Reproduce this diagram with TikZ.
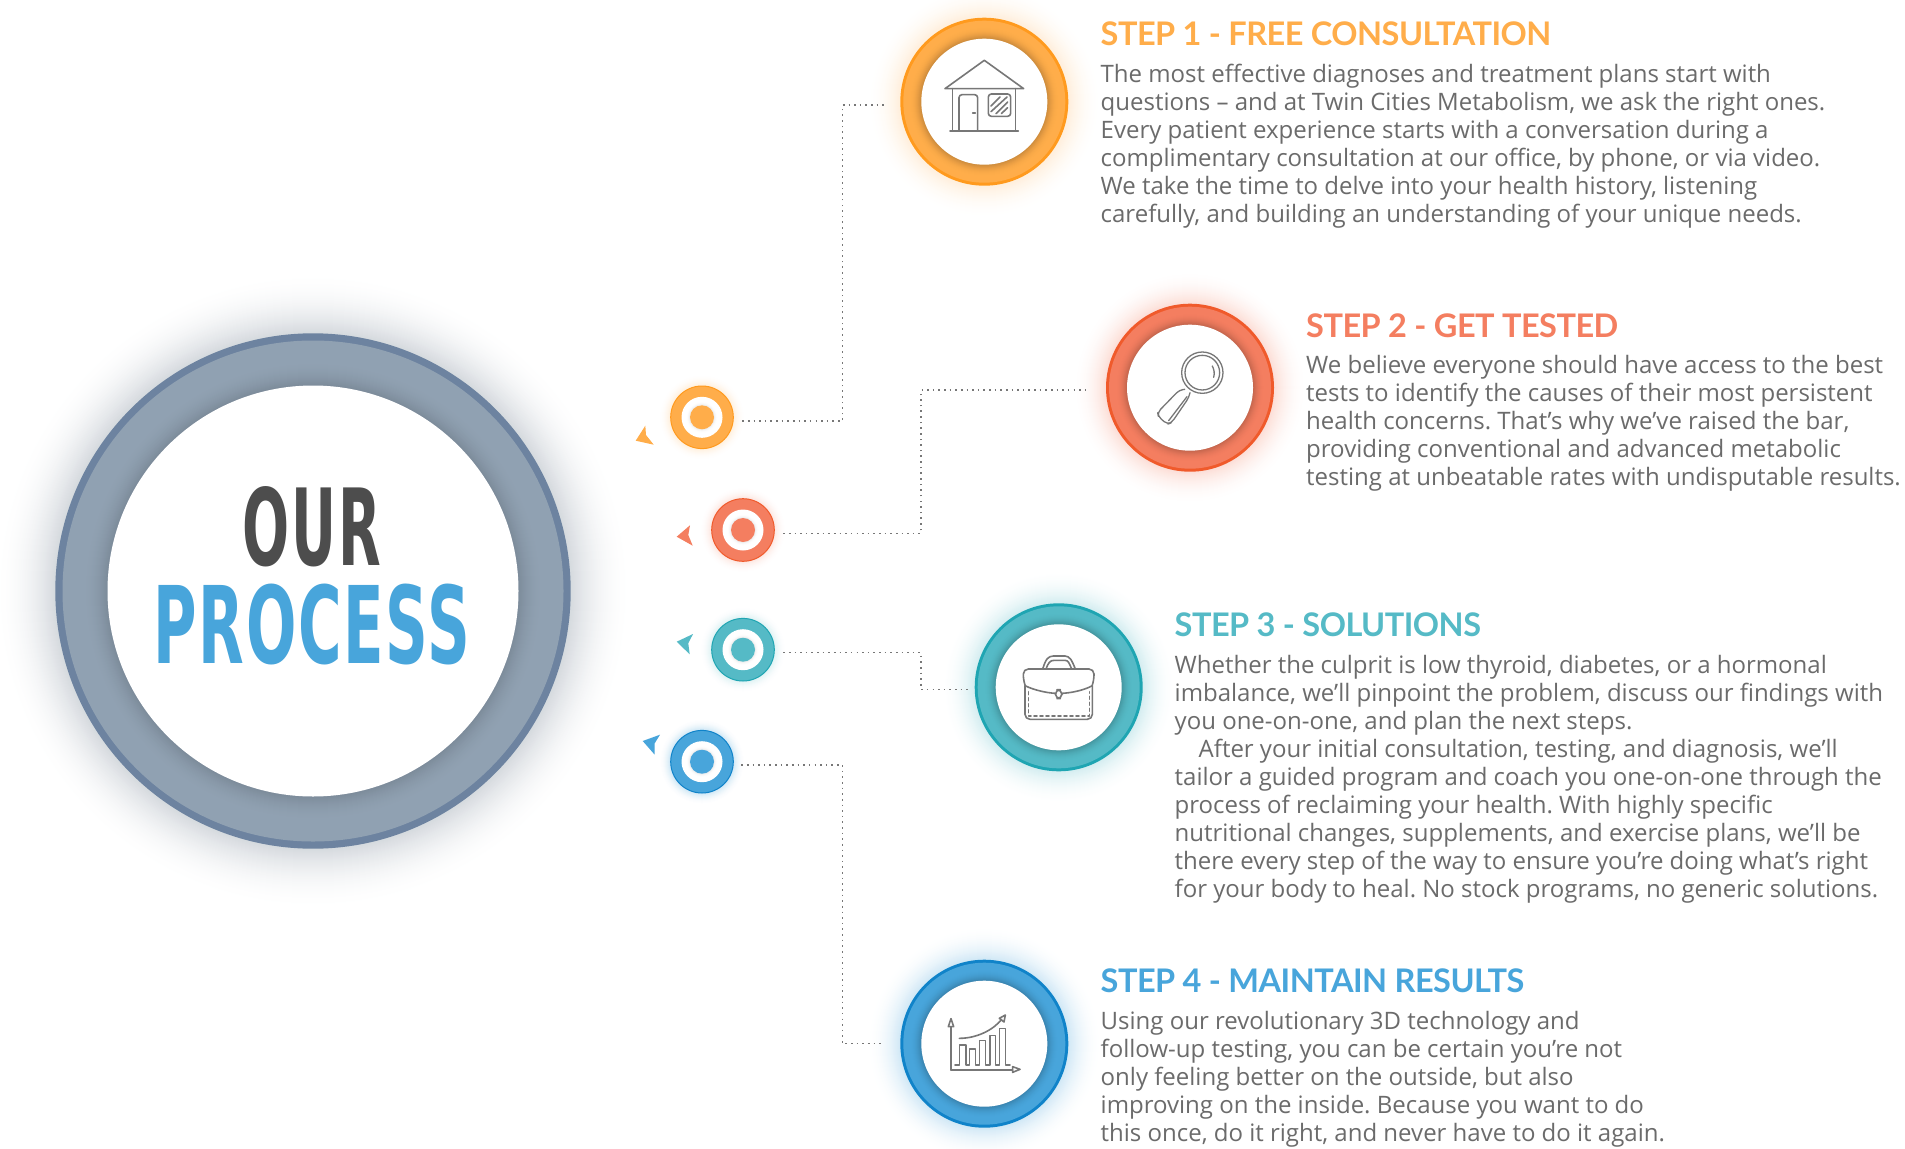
\documentclass[tikz,border=0pt]{standalone}
\usepackage{fontspec}
\setmainfont{Open Sans}
\newfontfamily\headfont[LetterSpace=-1.6]{Lato}
\newfontfamily\bigfont[LetterSpace=3]{DejaVu Sans}
\definecolor{corange}{HTML}{FFAD4A}\definecolor{borange}{HTML}{FF9A1E}
\definecolor{cred}{HTML}{F47E60}\definecolor{bred}{HTML}{F05A2B}
\definecolor{cteal}{HTML}{55BAC6}\definecolor{bteal}{HTML}{1FA5B2}
\definecolor{cblue}{HTML}{48A5DB}\definecolor{bblue}{HTML}{1083C9}
\definecolor{cgray}{HTML}{90A1B2}\definecolor{bgray}{HTML}{6D83A0}\definecolor{hgray}{HTML}{8A96A3}
\definecolor{txt}{HTML}{6B6B6B}\definecolor{icon}{HTML}{777777}\definecolor{dark}{HTML}{4D4D4D}
\newcommand{\halo}[6]{% x y R width pct colour
  \foreach \i in {#4,...,1}{%
    \pgfmathsetmacro{\pp}{#5*(1-\i/(#4+1))*(1-\i/(#4+1))}
    \fill[#6!\pp!white] (#1,#2) circle[radius=#3+\i];
  }}
\newcommand{\inshade}[6]{% x y r width colour strength
  \foreach \i in {#4,...,1}{%
    \pgfmathsetmacro{\pp}{100-#6*(1-\i/(#4+1))*(1-\i/(#4+1))}
    \fill[#5!\pp!black] (#1,#2) circle[radius=#3+\i];
  }}
\tikzset{
  ringnode/.style={circle,inner sep=0pt,outer sep=0pt,minimum size=#1},
  whitedisc/.style={circle,inner sep=0pt,outer sep=0pt,minimum size=#1,fill=white},
  head/.style={anchor=base west,inner sep=0pt,font=\fontsize{32.5}{36}\selectfont\headfont\bfseries},
  body/.style={anchor=north west,inner sep=0pt,align=left,text=txt,font=\fontsize{24}{28}\selectfont\frenchspacing},
  dotline/.style={draw=icon,line width=1.5pt,dash pattern=on 1.6pt off 4.03pt},
  ico/.style={draw=icon,line width=1.6pt,line join=round,line cap=round}
}
\begin{document}
\begin{tikzpicture}[x=1pt,y=-1pt]
\path[use as bounding box,fill=white] (0,0) rectangle (1905,1148);
% ---- big circle
\halo{313}{591}{257.7}{60}{36}{hgray}
\node[ringnode=515.4,fill=bgray] (main) at (313,591) {};
\node[ringnode=501,fill=cgray] (mainring) at (313,591) {};
\inshade{313}{591}{205.5}{24}{cgray}{14}
\node[whitedisc=411] (maindisc) at (313,591) {};
\node[inner sep=0pt,text=dark] (our) at (312,526.5) {\resizebox{138pt}{79pt}{\bigfont\bfseries OUR}};
\node[inner sep=0pt,text=cblue] (process) at (312,624.5) {\resizebox{317pt}{79.5pt}{\bigfont\bfseries PROCESS}};
% ---- step circles
\halo{984.3}{101.7}{84}{32}{20}{corange}
\node[ringnode=168,fill=borange] (step1) at (984.3,101.7) {};
\node[ringnode=162,fill=corange] (ring1) at (984.3,101.7) {};
\inshade{984.3}{101.7}{63}{11}{corange}{22}
\node[whitedisc=126] (disc1) at (984.3,101.7) {};
\halo{1190}{387.7}{84}{32}{26}{cred}
\node[ringnode=168,fill=bred] (step2) at (1190,387.7) {};
\node[ringnode=162,fill=cred] (ring2) at (1190,387.7) {};
\inshade{1190}{387.7}{63}{11}{cred}{22}
\node[whitedisc=126] (disc2) at (1190,387.7) {};
\halo{1058.7}{687.3}{84}{32}{26}{cteal}
\node[ringnode=168,fill=bteal] (step3) at (1058.7,687.3) {};
\node[ringnode=162,fill=cteal] (ring3) at (1058.7,687.3) {};
\inshade{1058.7}{687.3}{63}{11}{cteal}{22}
\node[whitedisc=126] (disc3) at (1058.7,687.3) {};
\halo{984.3}{1043.7}{84}{32}{26}{cblue}
\node[ringnode=168,fill=bblue] (step4) at (984.3,1043.7) {};
\node[ringnode=162,fill=cblue] (ring4) at (984.3,1043.7) {};
\inshade{984.3}{1043.7}{63}{11}{cblue}{22}
\node[whitedisc=126] (disc4) at (984.3,1043.7) {};
% ---- small target circles
\halo{702}{417.3}{31.3}{11}{22}{corange}
\node[ringnode=62.6,fill=corange,draw=borange,line width=1pt] (dot1) at (702,417.3) {};
\node[whitedisc=41] (dotw1) at (702,417.3) {};
\halo{702}{417.3}{12}{3}{22}{gray}
\node[ringnode=24,fill=corange] (dotc1) at (702,417.3) {};
\halo{743}{530}{31.3}{11}{22}{cred}
\node[ringnode=62.6,fill=cred,draw=bred,line width=1pt] (dot2) at (743,530) {};
\node[whitedisc=41] (dotw2) at (743,530) {};
\halo{743}{530}{12}{3}{22}{gray}
\node[ringnode=24,fill=cred] (dotc2) at (743,530) {};
\halo{743}{649.7}{31.3}{11}{22}{cteal}
\node[ringnode=62.6,fill=cteal,draw=bteal,line width=1pt] (dot3) at (743,649.7) {};
\node[whitedisc=41] (dotw3) at (743,649.7) {};
\halo{743}{649.7}{12}{3}{22}{gray}
\node[ringnode=24,fill=cteal] (dotc3) at (743,649.7) {};
\halo{702}{761.7}{31.3}{11}{30}{cblue}
\node[ringnode=62.6,fill=cblue,draw=bblue,line width=1pt] (dot4) at (702,761.7) {};
\node[whitedisc=41] (dotw4) at (702,761.7) {};
\halo{702}{761.7}{12}{3}{22}{gray}
\node[ringnode=24,fill=cblue] (dotc4) at (702,761.7) {};
% ---- arrow tips
\fill[corange] (635.7,440.7) -- (645.3,425.7) -- (646,435) -- (653.7,444.7) -- cycle;
\fill[cred] (676.7,536.7) -- (690,525.3) -- (688.3,535) -- (692.7,545.7) -- cycle;
\fill[cteal] (676.7,641.7) -- (693,634) -- (688.3,643.3) -- (689.7,654.3) -- cycle;
\fill[cblue] (642.7,741) -- (660,734.7) -- (654.7,743.3) -- (654.7,754.7) -- cycle;
% ---- connectors
\coordinate (v1) at (842.7,300);
\coordinate (v2) at (921,450);
\coordinate (v3) at (921,670);
\coordinate (v4) at (842.5,900);
\coordinate (s1) at ([xshift=9pt,yshift=-3.7pt]dot1.east);
\coordinate (e1) at ([xshift=-14pt,yshift=-3.3pt]step1.west);
\coordinate (s2) at ([xshift=9pt,yshift=-3.3pt]dot2.east);
\coordinate (e2) at ([xshift=-17pt,yshift=-2.3pt]step2.west);
\coordinate (s3) at ([xshift=9pt,yshift=-3pt]dot3.east);
\coordinate (e3) at ([xshift=-7pt,yshift=-2pt]step3.west);
\coordinate (s4) at ([xshift=8pt,yshift=-3.3pt]dot4.east);
\coordinate (e4) at ([xshift=-19pt]step4.west);
\draw[dotline] (s1) -- (s1 -| v1) -- (e1 -| v1) -- (e1);
\draw[dotline] (s2) -- (s2 -| v2) -- (e2 -| v2) -- (e2);
\draw[dotline] (s3) -- (s3 -| v3) -- (e3 -| v3) -- (e3);
\draw[dotline] (s4) -- (s4 -| v4) -- (e4 -| v4) -- (e4);
% ---- icons
\begin{scope}[shift={(860,0)},x=0.3333pt,y=-0.3333pt]
  \draw[ico] (255,266) -- (373,181) -- (491,266) -- cycle;
  \draw[ico] (278,266) -- (278,393);
  \draw[ico] (467,266) -- (467,393);
  \draw[ico] (270,393) -- (475,393);
  \draw[ico,rounded corners=3pt] (297,393) -- (297,284) -- (353,284) -- (353,393);
  \draw[ico] (338,339) -- (346,339);
  \draw[ico,rounded corners=3pt] (385,282) rectangle (452,349);
  \draw[ico] (393,318) -- (420,291);
  \draw[ico] (393,335) -- (441,291);
  \draw[ico] (408,341) -- (443,306);
  \draw[ico] (424,341) -- (443,323);
\end{scope}
\begin{scope}[shift={(1090,290)},x=0.3333pt,y=-0.3333pt]
  \draw[ico,line width=1.3pt] (337,248) circle[radius=62];
  \draw[ico,line width=1.3pt] (337,248) circle[radius=52];
  \draw[ico,line width=1.3pt] (367,228) .. controls (373,240) and (374,250) .. (371,262);
  \draw[ico,line width=1.3pt,rounded corners=4pt] (284,298) -- (268,300) -- (203,367) -- (205,380) -- (232,403) -- (245,398) -- (297,322) -- (300,308);
  \draw[ico,line width=1.3pt] (236,392) -- (291,320);
\end{scope}
\begin{scope}[shift={(960,590)},x=0.3333pt,y=-0.3333pt]
  \draw[ico,rounded corners=5pt] (195,285) -- (190,270) -- (190,237) -- (402,237) -- (402,270) -- (397,285);
  \draw[ico] (195,287) .. controls (225,302) and (265,309) .. (286,310);
  \draw[ico] (306,310) .. controls (330,309) and (370,302) .. (397,287);
  \draw[ico,rounded corners=5pt] (195,287) -- (195,388) -- (397,388) -- (397,287);
  \draw[ico,rounded corners=5pt] (286,299) rectangle (306,326);
  \draw[ico,dash pattern=on 3pt off 3pt] (205,305) -- (205,378) -- (388,378) -- (388,305);
  \draw[ico] (248,237) .. controls (258,205) and (265,199) .. (280,198) -- (315,198) .. controls (330,199) and (335,210) .. (346,237);
  \draw[ico] (258,237) .. controls (265,218) and (270,211) .. (283,211) -- (315,211) .. controls (325,211) and (328,220) .. (335,237);
\end{scope}
\begin{scope}[shift={(880,950)},x=0.3333pt,y=-0.3333pt]
  \draw[ico] (213,360) -- (213,230);
  \draw[ico] (205,230) -- (213,206) -- (221,230) -- cycle;
  \draw[ico] (213,360) -- (398,360);
  \draw[ico] (398,350) -- (420,358) -- (398,367) -- cycle;
  \draw[ico] (225,345) -- (238,345) -- (238,285) -- (258,285) -- (258,345) -- (268,345) -- (268,297) -- (287,297) -- (287,345) -- (298,345) -- (298,272) -- (317,272) -- (317,345) -- (330,345) -- (330,256) -- (347,256) -- (347,345) -- (358,345) -- (358,236) -- (376,236) -- (376,345) -- (390,345);
  \draw[ico] (238,265) .. controls (290,265) and (340,240) .. (365,208);
  \draw[ico] (358,205) -- (376,195) -- (372,216) -- cycle;
\end{scope}
% ---- text
\node[head,text=corange] (h1) at (1100.5,45.6) {STEP 1 - FREE CONSULTATION};
\node[body] (t1) at (1100.5,63.5) {The most effective diagnoses and treatment plans start with\\
questions – and at Twin Cities Metabolism, we ask the right ones.\\
Every patient experience starts with a conversation during a\\
complimentary consultation at our office, by phone, or via video.\\
We take the time to delve into your health history, listening\\
carefully, and building an understanding of your unique needs.};
\node[head,text=cred] (h2) at (1306,337.4) {STEP 2 - GET TESTED};
\node[body] (t2) at (1306,355.5) {We believe everyone should have access to the best\\
tests to identify the causes of their most persistent\\
health concerns. That’s why we’ve raised the bar,\\
providing conventional and advanced metabolic\\
testing at unbeatable rates with undisputable results.};
\node[head,text=cteal] (h3) at (1174.5,636.4) {STEP 3 - SOLUTIONS};
\node[body] (t3) at (1174.5,655) {Whether the culprit is low thyroid, diabetes, or a hormonal\\
imbalance, we’ll pinpoint the problem, discuss our findings with\\
you one-on-one, and plan the next steps.\\
\hspace*{24pt}After your initial consultation, testing, and diagnosis, we’ll\\
tailor a guided program and coach you one-on-one through the\\
process of reclaiming your health. With highly specific\\
nutritional changes, supplements, and exercise plans, we’ll be\\
there every step of the way to ensure you’re doing what’s right\\
for your body to heal. No stock programs, no generic solutions.};
\node[head,text=cblue] (h4) at (1100.5,992.4) {STEP 4 - MAINTAIN RESULTS};
\node[body] (t4) at (1100.5,1011) {Using our revolutionary 3D technology and\\
follow-up testing, you can be certain you’re not\\
only feeling better on the outside, but also\\
improving on the inside. Because you want to do\\
this once, do it right, and never have to do it again.};
\end{tikzpicture}
\end{document}
